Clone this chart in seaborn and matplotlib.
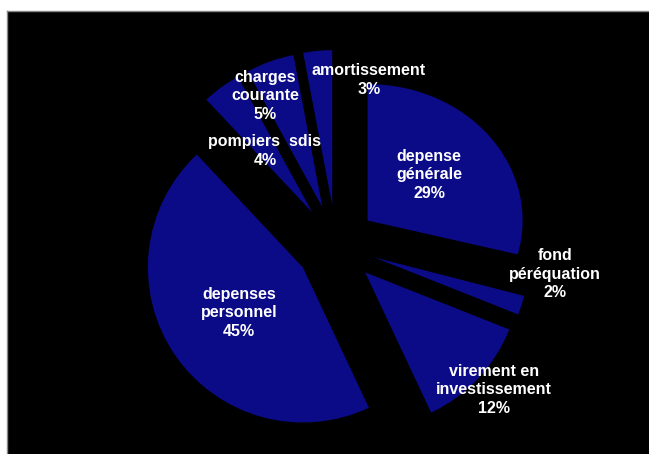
import matplotlib
matplotlib.use("Agg")
import matplotlib.pyplot as plt
import matplotlib.transforms as mtransforms
import seaborn as sns

# data
categories = ["depense\ngénérale", "fond\npéréquation", "virement en\ninvestissement",
              "depenses\npersonnel", "pompiers  sdis", "charges\ncourante", "amortissement"]
values = [29, 2, 12, 45, 4, 5, 3]
pct_labels = ["29%", "2%", "12%", "45%", "4%", "5%", "3%"]

sns.set_theme(style="white")
plt.rcParams["font.family"] = ["Liberation Sans", "DejaVu Sans"]

W, H = 649, 454
fig = plt.figure(figsize=(W / 100, H / 100), dpi=100, facecolor="white")
left, top = 7, 11
ax = fig.add_axes([left / W, 0, (W - left) / W, (H - top) / H])

cx, cy = 336, 245          # pie centre in pixels
R = 155                    # radius in pixels
wedges, _ = ax.pie(values, radius=R, startangle=90, counterclock=False,
                   explode=[40] * len(values), colors=["#0b0b88"] * len(values),
                   wedgeprops=dict(linewidth=0))
ax.set_frame_on(True)
ax.set_facecolor("black")
ax.set_aspect("equal")
ax.set_xlim(-(cx - left), W - cx)
ax.set_ylim(-(H - cy), cy - top)

# the first slice appears slightly flattened vertically in the original
w0 = wedges[0]
ax0, ay0 = w0.center
flatten = mtransforms.Affine2D().translate(-ax0, -ay0).scale(1, 0.88).translate(ax0, ay0)
w0.set_transform(flatten + ax.transData)

# label positions (offsets from pie centre, px)
label_offsets = [(93, 70), (219, -29), (158, -145), (-97, -68), (-71, 94), (-71, 149), (33, 165)]
for cat, pct, (dx, dy) in zip(categories, pct_labels, label_offsets):
    ax.text(dx, dy, f"{cat}\n{pct}", ha="center", va="center", color="white",
            fontsize=11.5, fontweight="bold", linespacing=1.27)

for s in ["bottom", "right"]:
    ax.spines[s].set_visible(False)
for s in ["top", "left"]:
    ax.spines[s].set_visible(True)
    ax.spines[s].set_color("#888888")
    ax.spines[s].set_linewidth(1)
ax.set_xticks([])
ax.set_yticks([])

fig.savefig("out.png", dpi=100, facecolor="white")
